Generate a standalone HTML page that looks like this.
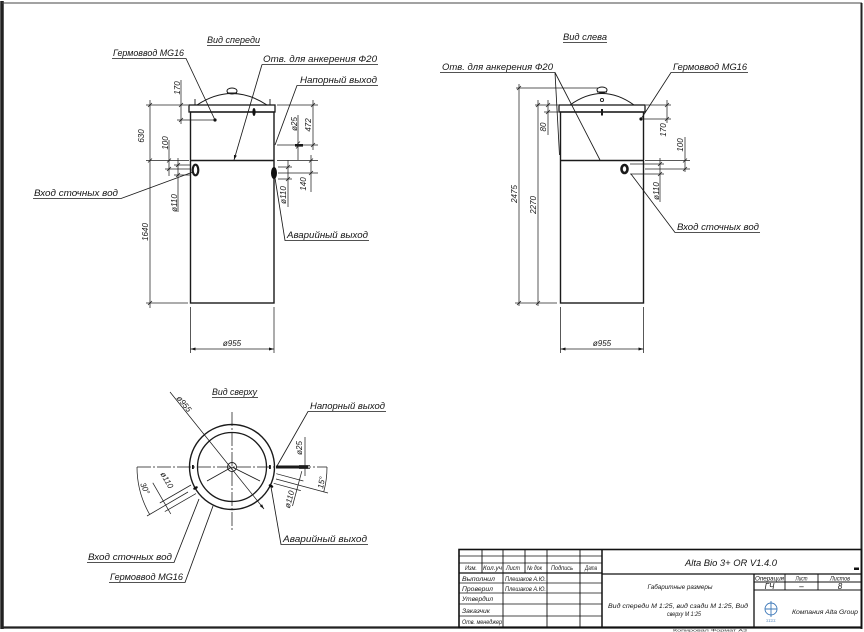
<!DOCTYPE html>
<html><head><meta charset="utf-8">
<style>
html,body{margin:0;padding:0;background:#fff;}
svg{display:block;}
text{font-family:"Liberation Sans","DejaVu Sans",sans-serif;font-style:italic;fill:#151515;}
.lb{font-size:9.5px;}
.dm{font-size:8px;}
.tb{font-size:6.3px;font-style:italic;}
</style></head><body>
<svg width="864" height="632" viewBox="0 0 864 632" xmlns="http://www.w3.org/2000/svg">
<defs>
<marker id="a" viewBox="0 0 10 10" refX="10" refY="5" markerWidth="5" markerHeight="5" markerUnits="userSpaceOnUse" orient="auto-start-reverse"><path d="M0,2 L10,5 L0,8z" fill="#151515"/></marker>
</defs>

<!-- frame -->
<line x1="2" y1="1" x2="2" y2="629" stroke="#222" stroke-width="3.5"/>
<line x1="2" y1="3" x2="862" y2="3" stroke="#444" stroke-width="1"/>
<line x1="861.5" y1="3" x2="861.5" y2="629" stroke="#222" stroke-width="2"/>
<line x1="2" y1="627.5" x2="862" y2="627.5" stroke="#222" stroke-width="2.2"/>

<!-- ================= FRONT VIEW ================= -->
<g fill="none" stroke="#1a1a1a">
  <rect x="190.5" y="112" width="83.5" height="191" stroke-width="1.4"/>
  <rect x="189" y="105" width="86" height="7" stroke-width="1.3"/>
  <line x1="190" y1="160.5" x2="274" y2="160.5" stroke-width="1.4"/>
  <path d="M197,105 Q232,82 267,105" stroke-width="1"/>
  <ellipse cx="232" cy="91" rx="5" ry="3" stroke-width="1"/>
  <line x1="227" y1="93" x2="237" y2="93" stroke-width="1"/>
  <path d="M195,99 V105 M270,99 V105" stroke-width="0.9"/>
  <ellipse cx="195.5" cy="170" rx="2.8" ry="5.3" stroke-width="2.2"/>
</g>
<circle cx="215" cy="120" r="1.6" fill="#111"/>
<ellipse cx="254" cy="112" rx="1.6" ry="4" fill="#111"/>
<ellipse cx="274" cy="173" rx="3" ry="6" fill="#111"/>
<rect x="295" y="144" width="8" height="2.6" fill="#111"/>

<g fill="none" stroke="#222" stroke-width="0.75">
  <path d="M146,105 H188 M146,160.5 H189 M146,303 H188 M150,100 V308
  M177,120 H214 M181,80 V124 M165,169 H191 M169,140 V176
  M174,165 H191 M174,175 H191 M178,158 V212
  M277,105 H318 M313,100 V150 M277,145 H318 M298,115 V160
  M277,160.5 H318 M278,173 H318 M311,155 V192
  M278,167 H292 M278,179 H292 M288,160 V207
  M190.5,307 V353 M274,307 V353"/>
  <path d="M148,107 l4,-4 M148,162.5 l4,-4 M148,305 l4,-4 M179,107 l4,-4 M179,122 l4,-4
  M167,162.5 l4,-4 M167,171 l4,-4 M176,167 l4,-4 M176,177 l4,-4
  M311,107 l4,-4 M311,147 l4,-4 M296,145.5 l4,-4 M296,148.5 l4,-4 M309,162.5 l4,-4 M309,175 l4,-4
  M286,169 l4,-4 M286,181 l4,-4"/>
  <line x1="190.5" y1="349" x2="274" y2="349" marker-start="url(#a)" marker-end="url(#a)"/>
</g>
<text class="dm" transform="translate(144,136) rotate(-90)" text-anchor="middle">630</text>
<text class="dm" transform="translate(148,232) rotate(-90)" text-anchor="middle">1640</text>
<text class="dm" transform="translate(180,88) rotate(-90)" text-anchor="middle">170</text>
<text class="dm" transform="translate(168,143) rotate(-90)" text-anchor="middle">100</text>
<text class="dm" transform="translate(177,203) rotate(-90)" text-anchor="middle">ø110</text>
<text class="dm" transform="translate(297,124) rotate(-90)" text-anchor="middle">ø25</text>
<text class="dm" transform="translate(311,125) rotate(-90)" text-anchor="middle">472</text>
<text class="dm" transform="translate(306,184) rotate(-90)" text-anchor="middle">140</text>
<text class="dm" transform="translate(286,195) rotate(-90)" text-anchor="middle">ø110</text>
<text class="dm" x="232" y="346" text-anchor="middle">ø955</text>

<!-- front labels -->
<g fill="none" stroke="#1a1a1a" stroke-width="0.85">
  <path d="M207,45.5 H260"/>
  <path d="M112,58.5 H186 L215,120"/>
  <path d="M378,64.5 H262"/>
  <line x1="262" y1="64.5" x2="234" y2="160" marker-end="url(#a)"/>
  <path d="M378,85.5 H297 L275,145"/>
  <path d="M33,198.5 H121 L193,172"/>
  <path d="M369,240.5 H285 L275,178"/>
</g>
<text class="lb" x="207" y="43" textLength="53" lengthAdjust="spacingAndGlyphs">Вид спереди</text>
<text class="lb" x="113" y="56" textLength="71" lengthAdjust="spacingAndGlyphs">Гермоввод MG16</text>
<text class="lb" x="263" y="62" textLength="114" lengthAdjust="spacingAndGlyphs">Отв. для анкерения Ф20</text>
<text class="lb" x="300" y="83" textLength="77" lengthAdjust="spacingAndGlyphs">Напорный выход</text>
<text class="lb" x="34" y="196" textLength="84" lengthAdjust="spacingAndGlyphs">Вход сточных вод</text>
<text class="lb" x="287" y="238" textLength="81" lengthAdjust="spacingAndGlyphs">Аварийный выход</text>

<!-- ================= LEFT VIEW ================= -->
<g fill="none" stroke="#1a1a1a">
  <rect x="560.5" y="112" width="83" height="191" stroke-width="1.4"/>
  <rect x="559" y="105" width="86" height="7" stroke-width="1.3"/>
  <line x1="560" y1="160.5" x2="643.5" y2="160.5" stroke-width="1.4"/>
  <path d="M570,105 Q602,82 634,105" stroke-width="1"/>
  <ellipse cx="602" cy="90" rx="5" ry="3" stroke-width="1"/>
  <line x1="597" y1="92" x2="607" y2="92" stroke-width="1"/>
  <circle cx="602" cy="100" r="1.6" stroke-width="0.9"/>
  <line x1="602" y1="109" x2="602" y2="115.5" stroke-width="2"/>
  <ellipse cx="624.5" cy="169" rx="3" ry="4" stroke-width="2.6"/>
</g>
<circle cx="641" cy="119" r="1.6" fill="#111"/>
<g fill="none" stroke="#222" stroke-width="0.75">
  <path d="M516,88 H598 M519,84 V306 M515,303 H557 M538,100 V306 M535,105 H558
  M548,100 V135 M544,112 H558 M646,105 H671 M667,100 V123 M643,119 H671
  M645,160.5 H690 M645,169 H690 M685,137 V172 M630,164 H664 M630,174 H664 M660,158 V202
  M560.5,307 V353 M643.5,307 V353"/>
  <path d="M517,90 l4,-4 M517,305 l4,-4 M536,107 l4,-4 M536,305 l4,-4 M546,107 l4,-4 M546,114 l4,-4
  M665,107 l4,-4 M665,121 l4,-4 M683,162.5 l4,-4 M683,171 l4,-4 M658,166 l4,-4 M658,176 l4,-4"/>
  <line x1="560.5" y1="349" x2="643.5" y2="349" marker-start="url(#a)" marker-end="url(#a)"/>
</g>
<text class="dm" transform="translate(517,194) rotate(-90)" text-anchor="middle">2475</text>
<text class="dm" transform="translate(536,205) rotate(-90)" text-anchor="middle">2270</text>
<text class="dm" transform="translate(546,127) rotate(-90)" text-anchor="middle">80</text>
<text class="dm" transform="translate(666,130) rotate(-90)" text-anchor="middle">170</text>
<text class="dm" transform="translate(683,145) rotate(-90)" text-anchor="middle">100</text>
<text class="dm" transform="translate(659,191) rotate(-90)" text-anchor="middle">ø110</text>
<text class="dm" x="602" y="346" text-anchor="middle">ø955</text>

<g fill="none" stroke="#1a1a1a" stroke-width="0.85">
  <path d="M563,42.5 H607"/>
  <path d="M440,72.5 H555 L559.5,155 M555,72.5 L600,160"/>
  <path d="M748,72.5 H671 L641,119"/>
  <path d="M760,232.5 H675 L631,174"/>
</g>
<text class="lb" x="563" y="40" textLength="44" lengthAdjust="spacingAndGlyphs">Вид слева</text>
<text class="lb" x="442" y="70" textLength="111" lengthAdjust="spacingAndGlyphs">Отв. для анкерения Ф20</text>
<text class="lb" x="673" y="70" textLength="74" lengthAdjust="spacingAndGlyphs">Гермоввод MG16</text>
<text class="lb" x="677" y="230" textLength="82" lengthAdjust="spacingAndGlyphs">Вход сточных вод</text>

<!-- ================= TOP VIEW ================= -->
<g fill="none" stroke="#1a1a1a">
  <circle cx="232" cy="467" r="42.5" stroke-width="1.4"/>
  <circle cx="232" cy="467" r="34.5" stroke-width="1.3"/>
  <circle cx="232" cy="467" r="4.5" stroke-width="0.9"/>
  <path d="M137,467 H327" stroke-width="0.75" stroke-dasharray="14 2 2 2"/>
  <path d="M232,412 V530" stroke-width="0.75" stroke-dasharray="14 2 2 2"/>
  <path d="M232,467 L207,481 M232,467 L260,481" stroke-width="0.8"/>
  <line x1="170" y1="392" x2="264" y2="509" stroke-width="0.75" marker-end="url(#a)"/>
  <line x1="276" y1="467" x2="308" y2="467" stroke-width="3"/>
</g>
<rect x="192" y="465" width="1.8" height="4" fill="#111"/>
<rect x="269" y="465" width="1.8" height="4" fill="#111"/>
<ellipse cx="195.5" cy="488" rx="1.3" ry="2.5" fill="#111" transform="rotate(60 195.5 488)"/>
<ellipse cx="271" cy="486" rx="1.3" ry="2.5" fill="#111" transform="rotate(-60 271 486)"/>
<g fill="none" stroke="#222" stroke-width="0.75">
  <path d="M305,437 V476 M299,465.5 H310 M299,468.5 H310"/>
  <path d="M276,479 L328,493"/>
  <path d="M327,467 A95,95 0 0,1 323.8,491.6"/>
  <path d="M273.7,483.3 L300.8,490.6 M276.3,473.7 L303.4,481 M301.8,471.2 L292.5,506"/>
  <path d="M196,493.6 L164.8,511.6 M191,485 L159.8,503 M152.8,482.8 L170.8,514"/>
  <path d="M137,467 A95,95 0 0,0 149.7,514.5"/>
  <path d="M188,492 L147,516"/>
</g>
<text class="dm" transform="translate(182,405.5) rotate(51)" text-anchor="middle">ø955</text>
<text class="dm" transform="translate(302,448) rotate(-90)" text-anchor="middle">ø25</text>
<text class="dm" transform="translate(324,483) rotate(-80)" text-anchor="middle">15°</text>
<text class="dm" transform="translate(292,500) rotate(-75)" text-anchor="middle">ø110</text>
<text class="dm" transform="translate(164.5,481.5) rotate(60)" text-anchor="middle">ø110</text>
<text class="dm" transform="translate(142.5,489.5) rotate(65)" text-anchor="middle">30°</text>

<g fill="none" stroke="#1a1a1a" stroke-width="0.85">
  <path d="M212,397.5 H258"/>
  <path d="M386,411.5 H308 L277,466"/>
  <path d="M87,562.5 H174 L199,499"/>
  <path d="M109,582.5 H185 L213,506"/>
  <path d="M368,544.5 H281 L271,487"/>
</g>
<text class="lb" x="212" y="395" textLength="45" lengthAdjust="spacingAndGlyphs">Вид сверху</text>
<text class="lb" x="310" y="409" textLength="75" lengthAdjust="spacingAndGlyphs">Напорный выход</text>
<text class="lb" x="88" y="560" textLength="84" lengthAdjust="spacingAndGlyphs">Вход сточных вод</text>
<text class="lb" x="110" y="580" textLength="73" lengthAdjust="spacingAndGlyphs">Гермоввод MG16</text>
<text class="lb" x="283" y="542" textLength="84" lengthAdjust="spacingAndGlyphs">Аварийный выход</text>

<!-- ================= TITLE BLOCK ================= -->
<g fill="none" stroke="#111">
  <rect x="459" y="549.5" width="402.5" height="78" stroke-width="1.6"/>
  <path d="M459,556 H602 M459,563 H602 M459,583 H602 M459,593 H602 M459,604 H602 M459,616 H602" stroke-width="0.8"/>
  <path d="M459,573 H602" stroke-width="1.3"/>
  <path d="M482,549.5 V573 M525,549.5 V573 M503,549.5 V627.5 M547,549.5 V627.5 M580,549.5 V627.5" stroke-width="0.9"/>
  <path d="M602,549.5 V627.5" stroke-width="1.5"/>
  <path d="M602,574 H862" stroke-width="1.3"/>
  <path d="M754,574 V627.5" stroke-width="1.3"/>
  <path d="M754,582 H862 M754,590 H862 M785,574 V590 M818,574 V590" stroke-width="0.9"/>
</g>
<text class="tb" x="465" y="570" textLength="12" lengthAdjust="spacingAndGlyphs">Изм.</text>
<text class="tb" x="483" y="570" textLength="19" lengthAdjust="spacingAndGlyphs">Кол.уч</text>
<text class="tb" x="506" y="570" textLength="14" lengthAdjust="spacingAndGlyphs">Лист</text>
<text class="tb" x="527" y="570" textLength="15" lengthAdjust="spacingAndGlyphs">№ док</text>
<text class="tb" x="551" y="570" textLength="22" lengthAdjust="spacingAndGlyphs">Подпись</text>
<text class="tb" x="585" y="570" textLength="12" lengthAdjust="spacingAndGlyphs">Дата</text>
<text class="tb" x="462" y="581" textLength="33" lengthAdjust="spacingAndGlyphs">Выполнил</text>
<text class="tb" x="505" y="581" textLength="41" lengthAdjust="spacingAndGlyphs">Плешаков А.Ю.</text>
<text class="tb" x="462" y="591" textLength="31" lengthAdjust="spacingAndGlyphs">Проверил</text>
<text class="tb" x="505" y="591" textLength="41" lengthAdjust="spacingAndGlyphs">Плешаков А.Ю.</text>
<text class="tb" x="462" y="601" textLength="31" lengthAdjust="spacingAndGlyphs">Утвердил</text>
<text class="tb" x="462" y="613" textLength="28" lengthAdjust="spacingAndGlyphs">Заказчик</text>
<text class="tb" x="462" y="624" textLength="40" lengthAdjust="spacingAndGlyphs">Отв. менеджер</text>

<text x="731" y="566" font-size="9.5" text-anchor="middle" textLength="92" lengthAdjust="spacingAndGlyphs">Alta Bio 3+ OR V1.4.0</text>
<rect x="854" y="567.5" width="5" height="2.5" fill="#111"/>
<text class="tb" x="680" y="589" text-anchor="middle" textLength="65" lengthAdjust="spacingAndGlyphs">Габаритные размеры</text>
<text class="tb" x="678" y="608" text-anchor="middle" textLength="140" lengthAdjust="spacingAndGlyphs">Вид спереди М 1:25, вид сзади М 1:25, Вид</text>
<text class="tb" x="684" y="616" text-anchor="middle" textLength="34" lengthAdjust="spacingAndGlyphs">сверху М 1:25</text>
<text class="tb" x="769.5" y="580.5" text-anchor="middle" textLength="29" lengthAdjust="spacingAndGlyphs">Операция</text>
<text class="tb" x="801.5" y="580.5" text-anchor="middle" textLength="12" lengthAdjust="spacingAndGlyphs">Лист</text>
<text class="tb" x="840" y="580.5" text-anchor="middle" textLength="20" lengthAdjust="spacingAndGlyphs">Листов</text>
<text x="769.5" y="589" font-size="8" text-anchor="middle">ГЧ</text>
<text x="801.5" y="589" font-size="8" text-anchor="middle">–</text>
<text x="840" y="589" font-size="8" text-anchor="middle">8</text>
<g fill="none" stroke="#3d78b8" stroke-width="0.9">
  <circle cx="771" cy="609" r="6"/>
  <path d="M771,601 V617 M765,609 H777"/>
</g>
<text x="771" y="622" font-size="3.8" text-anchor="middle" style="fill:#3d78b8;font-style:normal">ΣΣΣΣ</text>
<text class="tb" x="792" y="614" textLength="66" lengthAdjust="spacingAndGlyphs">Компания Alta Group</text>
<text x="710" y="631.5" font-size="3.5" text-anchor="middle" textLength="74" lengthAdjust="spacingAndGlyphs" style="fill:#333;font-style:normal">Копировал                Формат A3</text>
</svg>
</body></html>
